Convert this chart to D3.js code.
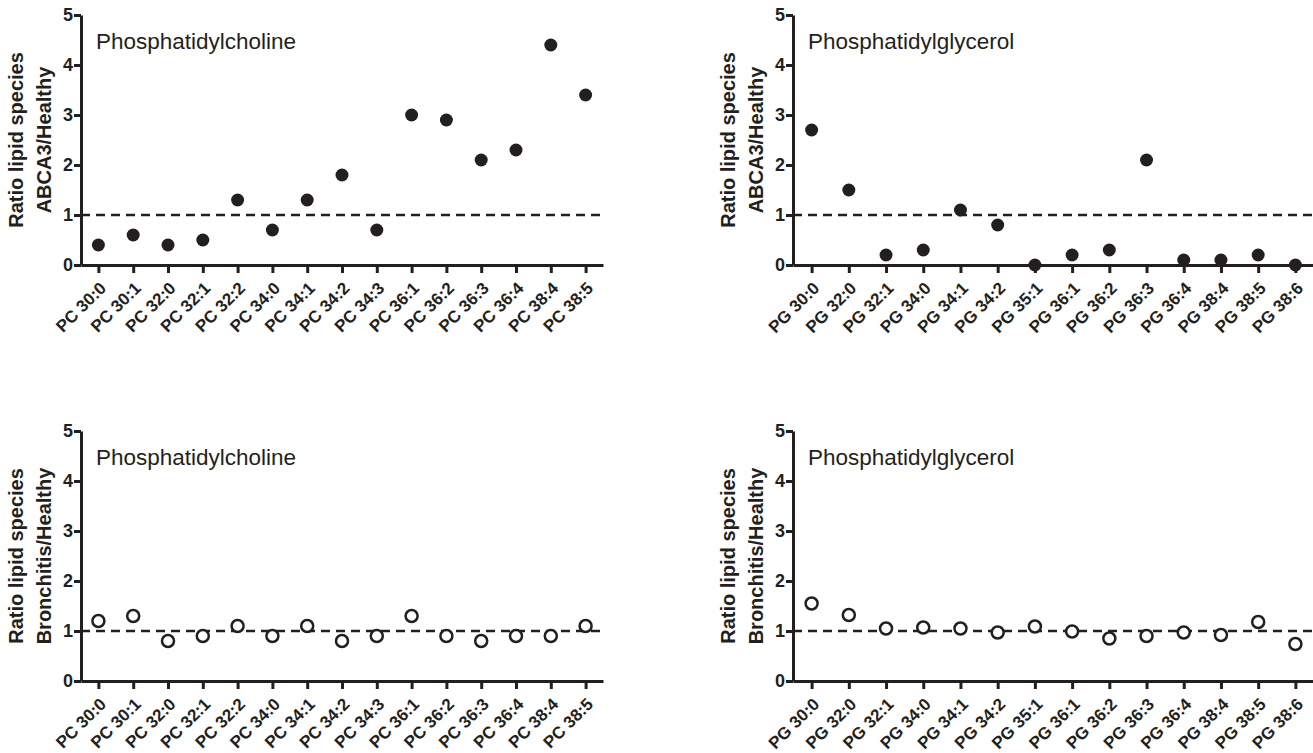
<!DOCTYPE html>
<html>
<head>
<meta charset="utf-8">
<script src="https://cdn.jsdelivr.net/npm/d3@7"></script>
<style>
  body { margin: 0; background: #fff; }
  svg { display: block; font-family: "Liberation Sans", Arial, sans-serif; }
  .axis path, .axis line { stroke: #231f20; stroke-width: 3; }
  .axis text { fill: #231f20; font-weight: bold; }
  .ytitle { fill: #231f20; font-weight: bold; font-size: 20px; }
  .ptitle { fill: #231f20; font-size: 22.5px; }
</style>
</head>
<body>
<div id="chart"></div>
<script>
// categories
const pcSpecies = ["PC 30:0", "PC 30:1", "PC 32:0", "PC 32:1", "PC 32:2", "PC 34:0", "PC 34:1",
  "PC 34:2", "PC 34:3", "PC 36:1", "PC 36:2", "PC 36:3", "PC 36:4", "PC 38:4", "PC 38:5"];
const pgSpecies = ["PG 30:0", "PG 32:0", "PG 32:1", "PG 34:0", "PG 34:1", "PG 34:2", "PG 35:1",
  "PG 36:1", "PG 36:2", "PG 36:3", "PG 36:4", "PG 38:4", "PG 38:5", "PG 38:6"];

// ratios
const pcAbca3 = [0.4, 0.6, 0.4, 0.5, 1.3, 0.7, 1.3, 1.8, 0.7, 3.0, 2.9, 2.1, 2.3, 4.4, 3.4];
const pgAbca3 = [2.7, 1.5, 0.2, 0.3, 1.1, 0.8, 0.0, 0.2, 0.3, 2.1, 0.1, 0.1, 0.2, 0.0];
const pcBronchitis = [1.2, 1.3, 0.8, 0.9, 1.1, 0.9, 1.1, 0.8, 0.9, 1.3, 0.9, 0.8, 0.9, 0.9, 1.1];
const pgBronchitis = [1.55, 1.32, 1.05, 1.07, 1.05, 0.97, 1.09, 0.99, 0.85, 0.9, 0.97, 0.92, 1.18, 0.74];

const yTicks = [0, 1, 2, 3, 4, 5];
const refLine = 1;

const W = 1313, H = 753;
const ink = "#231f20";

const svg = d3.select("#chart").append("svg")
  .attr("width", W)
  .attr("height", H);

function panel(opts) {
  const { left, top, width, height, cats, values, title, group, filled } = opts;
  const g = svg.append("g").attr("transform", `translate(${left},${top})`);

  const x = d3.scalePoint().domain(cats).range([0, width]).padding(0.5);
  const y = d3.scaleLinear().domain([0, 5]).range([height, 0]);

  // reference line at ratio 1
  g.append("line")
    .attr("x1", 0).attr("x2", width)
    .attr("y1", y(refLine)).attr("y2", y(refLine))
    .attr("stroke", ink)
    .attr("stroke-width", 2.5)
    .attr("stroke-dasharray", "9,6");

  const xa = g.append("g")
    .attr("class", "axis")
    .attr("transform", `translate(0,${height})`)
    .call(d3.axisBottom(x).tickSize(8).tickSizeOuter(0));
  xa.selectAll("text")
    .attr("font-size", 17)
    .attr("x", 0).attr("y", 0).attr("dy", "0.35em")
    .attr("text-anchor", "end")
    .attr("transform", "translate(4,20) rotate(-45)");

  const ya = g.append("g")
    .attr("class", "axis")
    .call(d3.axisLeft(y).tickValues(yTicks).tickFormat(d3.format("d")).tickSize(7).tickSizeOuter(0));
  ya.selectAll("text").attr("font-size", 18).attr("x", -8);

  g.append("text")
    .attr("class", "ptitle")
    .attr("x", 15)
    .attr("y", 34)
    .text(title);

  const yt = g.append("text")
    .attr("class", "ytitle")
    .attr("text-anchor", "middle")
    .attr("transform", `translate(-45,${height / 2}) rotate(-90)`);
  yt.append("tspan").attr("x", 0).attr("dy", "-0.65em").text("Ratio lipid species");
  yt.append("tspan").attr("x", 0).attr("dy", "1.4em").text(group + "/Healthy");

  g.selectAll("circle.pt")
    .data(values)
    .enter()
    .append("circle")
    .attr("class", "pt")
    .attr("cx", (d, i) => x(cats[i]))
    .attr("cy", d => y(d))
    .attr("r", filled ? 6.5 : 6)
    .attr("fill", filled ? ink : "#fff")
    .attr("stroke", ink)
    .attr("stroke-width", filled ? 0 : 2.5);
}

panel({ left: 81, top: 15, width: 522, height: 250, cats: pcSpecies, values: pcAbca3,
  title: "Phosphatidylcholine", group: "ABCA3", filled: true });
panel({ left: 793, top: 15, width: 521, height: 250, cats: pgSpecies, values: pgAbca3,
  title: "Phosphatidylglycerol", group: "ABCA3", filled: true });
panel({ left: 81, top: 431, width: 522, height: 250, cats: pcSpecies, values: pcBronchitis,
  title: "Phosphatidylcholine", group: "Bronchitis", filled: false });
panel({ left: 793, top: 431, width: 521, height: 250, cats: pgSpecies, values: pgBronchitis,
  title: "Phosphatidylglycerol", group: "Bronchitis", filled: false });
</script>
</body>
</html>
